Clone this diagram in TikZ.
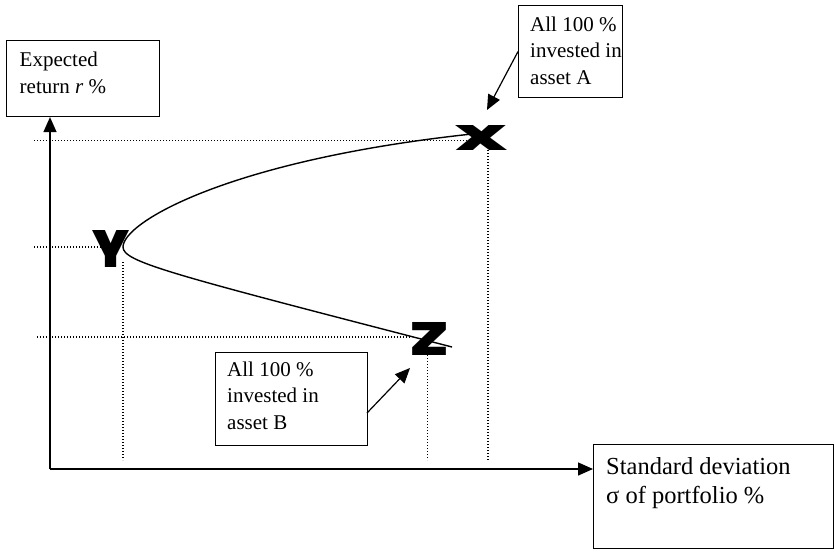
\documentclass[tikz,border=0pt]{standalone}
\usepackage{fontspec}
\usepackage{graphicx}
\setmainfont{Liberation Serif}
\newfontfamily\markfont{Poppins Black}
\usetikzlibrary{arrows.meta}
\begin{document}
\begin{tikzpicture}[x=1pt,y=-1pt,
  frame/.style={draw, line width=1.1pt, inner sep=0pt, anchor=north west},
  lbl/.style={anchor=base west, inner sep=0pt, align=left, font=\fontsize{21}{26.5}\selectfont},
  biglbl/.style={lbl, font=\fontsize{24.5}{29}\selectfont},
  axis/.style={line width=1.4pt, -{Triangle[length=15pt,width=13pt]}},
  pointer/.style={line width=1.2pt, -{Triangle[length=15pt,width=13pt]}},
  guide/.style={line width=1.2pt, dash pattern=on 1.2pt off 1.8pt},
  frontier/.style={line width=1.4pt},
  pointmark/.style={inner sep=0pt, font=\markfont}]
\useasboundingbox (0,0) rectangle (834,554);

% label boxes (each text is placed by the baseline of its last line)
\node[frame, minimum width=153pt, minimum height=76pt] (ret) at (6,40) {};
\node[lbl] (retT) at (19.5,93) {Expected\\return \textit{r} \%};

\node[frame, minimum width=104pt, minimum height=92pt] (boxA) at (518,5) {};
\node[lbl] (boxAT) at (530,84) {All 100 \%\\invested in\\asset A};

\node[frame, minimum width=152pt, minimum height=93pt] (boxB) at (215,352) {};
\node[lbl] (boxBT) at (227,429) {All 100 \%\\invested in\\asset B};

\node[frame, minimum width=240pt, minimum height=104pt] (std) at (593,444) {};
\node[biglbl] (stdT) at (606,503) {Standard deviation\\σ of portfolio \%};

% axes
\coordinate (origin) at (50,469);
\draw[axis] (origin) -- (ret.south -| origin);
\draw[axis] (origin) -- (origin -| std.west);

% dotted guides to the axes
\draw[guide] (34,140.7) -- (470,140.7);
\draw[guide] (488,150) -- (488,460);
\draw[guide] (34,247) -- (115,247);
\draw[guide] (123,262) -- (123,460);
\draw[guide] (37,337) -- (412,337);
\draw[guide] (427.5,355) -- (427.5,460);

% portfolio frontier through Y
\coordinate (topEnd) at (472,134);
\coordinate (vertex) at (123,247);
\coordinate (lowEnd) at (452,347);
\draw[frontier] (topEnd) .. controls (230,160) and (123,222) .. (vertex)
  .. controls (123,262) and (170,274) .. (lowEnd);

% point markers
\node[pointmark] (X) at (482,137.5) {\resizebox{52pt}{25pt}{X}};
\node[pointmark] (Y) at (111.5,248.5) {\resizebox{37pt}{37pt}{Y}};
\node[pointmark] (Z) at (430,338.5) {\resizebox{40pt}{33pt}{Z}};

% pointers from the notes
\coordinate (tipA) at (487,110);
\coordinate (tailB) at (367,413);
\coordinate (tipB) at (410,368);
\draw[pointer] (boxA.west) -- (tipA);
\draw[pointer] (tailB) -- (tipB);
\end{tikzpicture}
\end{document}
